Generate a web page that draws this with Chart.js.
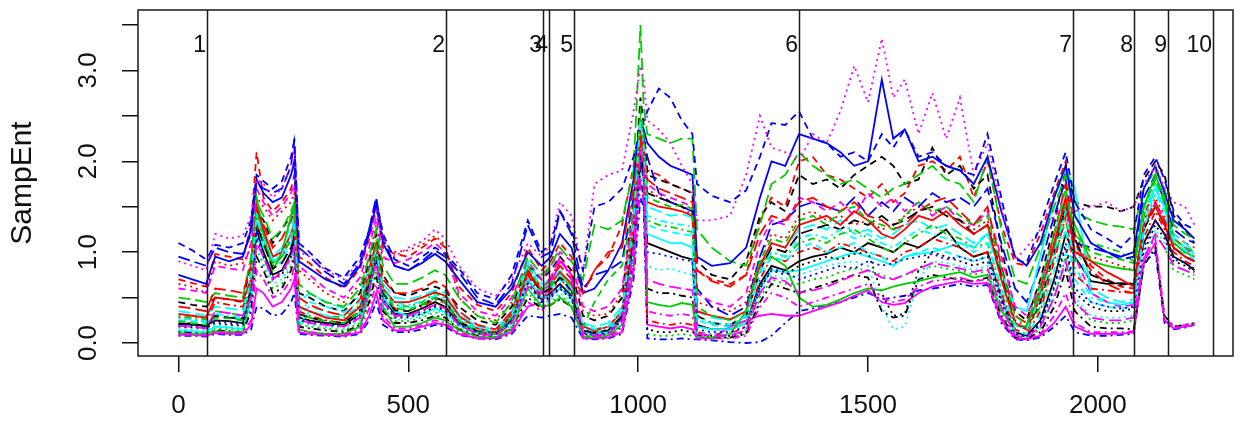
<!DOCTYPE html>
<html>
<head>
<meta charset="utf-8">
<script src="https://cdn.jsdelivr.net/npm/chart.js@4.4.1/dist/chart.umd.min.js"></script>
<style>
  html, body { margin: 0; padding: 0; background: #ffffff; }
  #wrap { width: 1240px; height: 423px; }
</style>
</head>
<body>
<div id="wrap"><canvas id="c" width="1240" height="423"></canvas></div>
<script>
// Sample positions (index along the recording)
const xs = [0,30,60,80,110,140,158,170,185,205,
  225,245,252,262,285,320,360,395,415,430,
  445,470,500,530,558,580,610,650,690,725,
  760,790,810,830,855,880,905,935,965,990,
  1005,1012,1020,1045,1070,1095,1118,1128,1160,1200,
  1235,1265,1290,1320,1350,1380,1410,1440,1470,1500,
  1530,1555,1580,1610,1640,1670,1700,1730,1760,1790,
  1820,1845,1875,1905,1930,1950,1985,2020,2050,2078,
  2100,2125,2145,2165,2190,2210];

// Sample entropy per subject
const s01 = [0.22,0.20,0.19,0.25,0.24,0.22,0.55,1.25,1.00,0.75, 0.80,1.00,1.20,0.28,0.25,0.22,0.20,0.32,0.65,0.95, 0.50,0.32,0.32,0.38,0.45,0.40,0.22,0.12,0.10,0.25, 0.70,0.48,0.55,0.65,0.52,0.12,0.10,0.12,0.28,1.10, 2.00,1.85,1.10,1.05,1.00,0.95,0.92,0.20,0.15,0.15, 0.22,0.65,0.85,0.80,0.90,0.95,0.98,1.05,1.00,1.10, 1.05,1.00,1.10,1.05,1.15,1.25,1.05,0.95,1.00,0.50, 0.12,0.08,0.25,0.70,1.20,0.95,0.68,0.65,0.66,0.65, 1.10,1.35,1.20,0.95,0.88,0.80];
const s02 = [0.70,0.66,0.62,0.98,0.95,0.92,1.30,2.10,1.60,1.45, 1.55,1.70,1.85,0.95,0.88,0.72,0.60,0.82,1.15,1.48, 1.05,0.98,0.95,1.05,1.15,1.05,0.62,0.42,0.35,0.55, 1.05,0.80,0.90,1.10,0.95,0.55,0.80,0.95,1.30,1.95, 2.40,2.30,1.90,1.85,1.75,1.70,1.65,0.80,0.70,0.65, 0.75,1.35,1.60,1.50,2.00,2.05,1.85,1.80,1.70,1.60, 1.75,1.55,1.65,1.95,2.00,1.90,2.05,1.60,2.00,1.30, 0.88,0.85,1.20,1.65,2.00,1.20,0.85,0.70,0.62,0.60, 1.40,1.70,1.50,1.20,1.10,1.05];
const s03 = [0.13,0.12,0.11,0.16,0.15,0.14,0.40,1.05,0.85,0.60, 0.65,0.85,1.00,0.20,0.18,0.16,0.14,0.22,0.50,0.80, 0.38,0.24,0.24,0.28,0.34,0.30,0.16,0.09,0.07,0.18, 0.55,0.40,0.45,0.52,0.42,0.09,0.07,0.09,0.20,0.95, 1.85,1.65,0.10,0.08,0.08,0.10,0.08,0.07,0.06,0.06, 0.10,0.50,0.70,0.65,0.65,0.70,0.72,0.78,0.82,0.80, 0.75,0.70,0.75,0.80,0.85,0.82,0.80,0.75,0.80,0.35, 0.07,0.05,0.15,0.50,0.95,0.45,0.25,0.22,0.22,0.25, 0.90,1.20,1.05,0.80,0.75,0.70];
const s04 = [0.08,0.08,0.07,0.10,0.09,0.09,0.15,0.40,0.38,0.30, 0.32,0.45,0.55,0.10,0.09,0.08,0.07,0.10,0.25,0.45, 0.20,0.12,0.12,0.15,0.20,0.18,0.09,0.05,0.04,0.10, 0.30,0.28,0.30,0.32,0.28,0.05,0.04,0.05,0.10,0.70, 1.60,1.50,0.05,0.04,0.04,0.05,0.04,0.04,0.03,0.01, 0.00,0.01,0.08,0.22,0.35,0.38,0.42,0.45,0.50,0.55, 0.48,0.50,0.52,0.58,0.60,0.62,0.65,0.62,0.64,0.22, 0.04,0.03,0.06,0.18,0.30,0.12,0.08,0.08,0.09,0.10, 0.88,1.00,0.22,0.15,0.17,0.20];
const s05 = [0.35,0.33,0.30,0.40,0.38,0.36,0.80,1.45,1.25,0.95, 1.05,1.30,1.40,0.45,0.55,0.45,0.38,0.52,0.85,1.05, 0.65,0.50,0.48,0.52,0.58,0.55,0.32,0.18,0.15,0.35, 0.90,0.65,0.70,0.80,0.65,0.22,0.18,0.22,0.40,1.40, 2.35,2.15,1.50,1.45,1.40,1.42,1.38,0.35,0.28,0.25, 0.35,0.85,1.10,1.05,1.25,1.30,1.25,1.35,1.20,1.25, 1.15,1.20,1.30,1.35,1.25,1.30,1.20,1.10,1.20,0.70, 0.20,0.15,0.60,1.20,1.60,1.10,0.60,0.50,0.45,0.48, 1.30,1.75,1.55,1.20,1.10,1.00];
const s06 = [0.09,0.09,0.08,0.11,0.10,0.10,0.20,0.60,0.55,0.40, 0.45,0.60,0.70,0.12,0.10,0.09,0.08,0.12,0.30,0.55, 0.25,0.14,0.14,0.18,0.22,0.20,0.10,0.05,0.05,0.12, 0.40,0.45,0.65,0.90,0.75,0.05,0.05,0.06,0.12,0.80, 2.10,2.30,0.20,0.18,0.16,0.18,0.15,0.05,0.05,0.18, 0.25,0.30,0.32,0.30,0.30,0.35,0.40,0.45,0.52,0.58, 0.45,0.42,0.44,0.55,0.62,0.65,0.68,0.65,0.66,0.25, 0.05,0.04,0.08,0.22,0.40,0.18,0.10,0.10,0.10,0.12, 0.90,1.10,0.25,0.16,0.18,0.20];
const s07 = [0.45,0.42,0.40,0.50,0.48,0.45,0.90,1.45,1.35,1.10, 1.25,1.40,1.50,0.55,0.50,0.40,0.35,0.55,0.90,1.20, 0.75,0.55,0.52,0.58,0.62,0.58,0.40,0.25,0.20,0.40, 0.85,0.70,0.80,0.95,0.80,0.30,0.25,0.30,0.50,1.60, 2.70,2.40,1.85,1.80,1.75,1.70,1.65,0.90,0.75,0.70, 0.90,1.40,1.55,1.45,1.85,1.75,1.80,1.70,1.85,1.95, 2.05,1.95,1.75,1.80,2.15,1.85,1.95,1.70,1.85,1.05, 0.35,0.25,0.70,1.30,1.95,1.55,1.50,1.50,1.45,1.50, 1.80,2.00,1.85,1.40,1.25,1.10];
const s08 = [0.65,0.62,0.55,0.90,0.85,0.88,1.05,1.60,1.50,1.35, 1.45,1.55,1.65,0.80,0.70,0.55,0.45,0.65,0.95,1.30, 0.90,1.00,1.02,1.08,1.18,1.08,0.50,0.30,0.25,0.45, 0.85,0.60,0.72,0.90,0.78,0.35,0.30,0.32,0.55,1.35, 2.15,2.05,1.70,1.60,1.55,1.50,1.40,0.45,0.40,0.35, 0.45,0.95,1.20,1.15,1.40,1.45,1.35,1.40,1.30,1.35, 1.25,1.30,1.40,1.50,1.45,1.40,1.35,1.25,1.35,0.80, 0.25,0.18,0.55,1.05,1.45,1.00,0.95,0.90,0.85,0.80, 1.35,1.60,1.40,1.10,1.00,0.95];
const s09 = [0.30,0.28,0.26,0.35,0.33,0.30,0.75,1.50,1.20,0.95, 1.00,1.20,1.35,0.40,0.35,0.30,0.28,0.42,0.80,1.10, 0.60,0.42,0.40,0.45,0.55,0.50,0.28,0.15,0.12,0.30, 0.80,0.55,0.62,0.75,0.60,0.20,0.15,0.18,0.35,1.30, 2.40,2.00,1.35,1.30,1.28,1.25,1.22,0.30,0.22,0.20, 0.30,0.80,1.00,0.95,1.10,1.15,1.10,1.20,1.25,1.15, 1.05,1.00,1.10,1.20,1.30,1.20,1.15,1.05,1.10,0.60, 0.20,0.15,0.40,0.95,1.35,0.90,1.10,1.05,1.00,0.90, 1.40,1.80,1.60,1.15,1.05,1.00];
const s10 = [0.95,0.90,0.85,1.05,1.00,0.98,1.20,1.75,1.70,1.65, 1.70,1.95,2.25,1.05,0.95,0.78,0.65,0.88,1.25,1.60, 1.15,0.85,0.80,0.90,1.02,0.95,0.78,0.50,0.42,0.65, 1.30,0.95,1.00,1.45,1.20,0.60,0.75,0.80,0.90,1.60, 2.20,2.25,2.05,1.65,1.55,1.50,1.45,0.60,0.40,0.30, 0.40,0.95,1.30,1.35,1.50,1.55,1.50,1.45,1.60,1.40, 1.55,1.45,1.60,1.50,1.65,1.55,1.60,1.50,1.70,1.10, 0.60,0.45,0.85,1.40,1.80,1.10,1.05,1.00,0.92,0.95, 1.60,1.85,1.55,1.25,1.15,1.10];
const s11 = [0.14,0.13,0.12,0.18,0.17,0.15,0.45,1.35,1.05,0.90, 0.95,1.20,1.35,0.20,0.35,0.30,0.25,0.32,0.60,0.95, 0.50,0.35,0.30,0.32,0.38,0.34,0.20,0.12,0.10,0.22, 0.70,0.50,0.52,0.60,0.50,0.12,0.10,0.12,0.30,1.15, 2.20,1.95,1.20,1.15,1.10,1.10,1.05,0.18,0.15,0.15, 0.22,0.60,0.80,0.78,0.80,0.85,0.90,0.95,1.00,0.95, 0.90,0.85,0.95,0.98,1.00,1.05,1.10,1.05,1.20,0.80, 0.40,0.35,0.95,1.60,1.92,1.70,0.55,0.45,0.42,0.45, 1.50,1.70,1.50,1.15,1.05,0.98];
const s12 = [0.60,0.58,0.55,0.85,0.82,0.80,1.10,1.70,1.55,1.40, 1.50,1.65,1.75,0.85,0.75,0.60,0.50,0.72,1.05,1.38, 0.95,0.88,0.92,1.00,1.10,1.00,0.55,0.35,0.30,0.50, 0.90,0.70,0.85,1.00,0.90,0.40,0.35,0.40,0.60,1.45, 2.30,2.20,1.75,1.65,1.60,1.55,1.50,0.55,0.45,0.40, 0.55,1.10,1.35,1.30,1.60,1.55,1.45,1.55,1.40,1.65, 1.50,1.60,1.45,1.55,1.40,1.50,1.35,1.30,1.45,0.95, 0.40,0.30,0.65,1.10,1.50,0.95,0.55,0.45,0.40,0.42, 1.25,1.55,1.35,1.15,1.05,0.95];
const s13 = [0.18,0.17,0.16,0.22,0.20,0.19,0.50,1.15,0.95,0.70, 0.75,0.95,1.10,0.25,0.22,0.20,0.18,0.28,0.60,0.90, 0.45,0.28,0.28,0.32,0.40,0.36,0.20,0.10,0.08,0.22, 0.65,0.45,0.50,0.60,0.48,0.10,0.08,0.10,0.25,1.05, 1.95,1.80,0.15,0.12,0.12,0.14,0.12,0.10,0.08,0.08, 0.12,0.60,0.80,0.75,0.85,0.90,0.95,0.92,0.98,1.00, 0.55,0.30,0.32,0.80,1.00,0.95,0.90,0.85,0.90,0.45, 0.10,0.07,0.20,0.60,1.05,0.55,0.40,0.35,0.35,0.38, 1.00,1.30,1.15,0.90,0.85,0.78];
const s14 = [0.28,0.26,0.24,0.45,0.42,0.40,0.65,1.30,1.15,0.85, 0.95,1.15,1.25,0.35,0.30,0.25,0.22,0.35,0.70,1.00, 0.55,0.38,0.36,0.40,0.48,0.44,0.25,0.12,0.10,0.28, 0.75,0.50,0.58,0.70,0.58,0.15,0.12,0.15,0.30,1.25, 2.20,1.90,0.25,0.22,0.20,0.22,0.20,0.12,0.10,0.10, 0.18,0.70,0.95,0.90,1.00,1.05,1.00,1.10,1.05,1.00, 0.95,0.90,1.00,1.05,1.15,1.10,1.05,0.95,1.00,0.55, 0.15,0.10,0.35,0.90,1.40,0.75,0.60,0.58,0.56,0.55, 1.15,1.45,1.25,1.00,0.90,0.85];
const s15 = [0.50,0.48,0.45,0.55,0.52,0.50,0.95,1.55,1.40,1.15, 1.25,1.45,1.55,0.65,0.55,0.45,0.40,0.60,0.95,1.25, 0.85,0.65,0.65,0.72,0.80,0.75,0.50,0.30,0.22,0.45, 0.95,0.75,0.85,1.05,0.90,0.70,1.30,1.25,1.35,1.90, 3.50,2.60,2.30,2.25,2.20,2.25,2.25,1.25,1.05,0.90, 0.85,1.30,1.75,1.85,2.10,1.95,1.85,1.75,1.80,1.70, 1.60,1.70,1.75,1.85,1.95,1.80,1.75,1.55,2.05,1.25, 0.70,0.65,1.05,1.50,1.85,1.45,1.35,1.30,1.28,1.25, 1.70,1.90,1.70,1.30,1.20,1.15];
const s16 = [0.75,0.70,0.65,0.95,0.90,0.95,1.25,1.80,1.65,1.55, 1.60,1.85,2.00,0.90,0.82,0.70,0.62,0.85,1.20,1.52, 1.10,0.85,0.80,0.88,0.98,0.90,0.70,0.45,0.40,0.60, 1.00,0.85,0.95,1.20,1.05,0.55,0.60,0.80,1.10,1.80, 2.45,2.35,2.20,2.05,1.95,1.90,1.85,0.95,0.85,0.88, 1.05,1.60,2.00,1.95,2.30,2.25,2.20,2.10,1.95,2.00, 2.90,2.25,2.35,2.00,2.05,1.95,1.90,1.75,2.05,1.45, 0.95,0.85,1.10,1.60,1.95,1.40,1.10,1.00,0.95,1.00, 1.70,1.95,1.65,1.35,1.25,1.15];
const s17 = [0.25,0.24,0.22,0.30,0.28,0.26,0.70,1.40,1.10,0.85, 0.90,1.10,1.30,0.30,0.40,0.35,0.30,0.40,0.75,1.00, 0.55,0.40,0.38,0.42,0.50,0.45,0.25,0.14,0.12,0.28, 0.85,0.55,0.60,0.70,0.55,0.18,0.12,0.15,0.32,1.20, 2.40,2.10,1.30,1.25,1.22,1.20,1.18,0.25,0.20,0.18, 0.28,0.75,0.95,0.90,1.05,1.10,1.00,1.05,1.10,1.00, 0.95,0.85,0.95,1.00,1.05,1.00,0.95,0.90,0.95,0.50, 0.12,0.10,0.30,0.80,1.25,0.70,0.45,0.40,0.38,0.40, 1.20,1.65,1.45,1.05,0.98,0.92];
const s18 = [0.90,0.85,0.80,1.20,1.15,1.18,1.40,1.80,1.75,1.60, 1.70,1.95,2.18,1.00,0.95,0.80,0.70,0.90,1.15,1.45, 1.15,0.95,1.05,1.12,1.25,1.15,0.85,0.60,0.52,0.70, 1.10,0.95,1.10,1.55,1.40,0.78,1.75,1.85,1.90,2.55, 3.05,2.90,2.45,2.35,2.20,1.95,1.75,1.35,1.35,1.40, 1.85,2.50,2.15,2.10,2.00,2.30,2.20,2.55,3.05,2.65, 3.35,2.70,2.90,2.30,2.75,2.25,2.70,1.85,2.20,1.50, 0.92,1.05,1.25,1.40,1.50,1.45,1.50,1.55,1.45,1.50, 1.75,1.95,1.70,1.55,1.50,1.30];
const s19 = [0.12,0.11,0.10,0.14,0.13,0.12,0.35,0.95,0.80,0.55, 0.60,0.80,0.95,0.18,0.16,0.14,0.12,0.20,0.45,0.75, 0.35,0.22,0.22,0.25,0.30,0.28,0.15,0.08,0.06,0.16, 0.50,0.38,0.42,0.48,0.40,0.08,0.06,0.08,0.18,0.90, 1.80,1.60,0.60,0.55,0.55,0.52,0.50,0.08,0.06,0.06, 0.10,0.45,0.65,0.60,0.55,0.60,0.65,0.70,0.75,0.72, 0.35,0.28,0.30,0.70,0.75,0.72,0.70,0.68,0.72,0.30, 0.06,0.05,0.12,0.40,0.80,0.35,0.18,0.16,0.16,0.15, 0.85,1.05,0.30,0.18,0.20,0.22];
const s20 = [0.40,0.38,0.35,0.60,0.58,0.55,0.85,1.40,1.30,1.05, 1.15,1.35,1.45,0.50,0.42,0.35,0.30,0.48,0.82,1.10, 0.70,0.55,0.55,0.60,0.68,0.62,0.35,0.20,0.15,0.35, 0.80,0.60,0.70,0.85,0.70,0.55,0.80,1.00,1.05,1.70, 2.25,2.10,1.80,1.70,1.65,1.60,1.55,0.80,0.68,0.62, 0.75,1.20,1.40,1.35,1.55,1.60,1.50,1.45,1.55,1.40, 1.35,1.25,1.30,1.45,1.55,1.60,1.45,1.30,1.50,0.85, 0.30,0.22,0.60,1.20,1.75,1.10,0.80,0.65,0.58,0.55, 1.30,1.55,1.35,1.05,0.95,0.90];
const s21 = [0.11,0.10,0.10,0.13,0.12,0.12,0.55,1.60,1.20,0.80, 1.00,1.40,1.50,0.15,0.12,0.10,0.10,0.18,0.55,1.10, 0.40,0.18,0.18,0.22,0.28,0.25,0.14,0.07,0.06,0.15, 0.60,0.40,0.42,0.50,0.40,0.07,0.06,0.08,0.20,1.20, 2.45,2.20,0.45,0.42,0.40,0.44,0.42,0.07,0.06,0.10, 0.35,0.90,0.95,0.85,0.50,0.40,0.42,0.48,0.55,0.60, 0.58,0.62,0.65,0.68,0.72,0.75,0.78,0.72,0.75,0.35, 0.20,0.18,0.55,1.05,1.55,1.30,0.90,0.85,0.82,0.80, 1.50,1.85,1.60,1.10,1.00,0.95];
const s22 = [1.10,1.02,0.92,1.08,1.05,1.10,1.35,1.85,1.78,1.70, 1.78,2.05,2.22,1.10,1.00,0.82,0.72,0.95,1.25,1.58, 1.20,0.92,0.85,0.95,1.05,0.98,0.82,0.55,0.48,0.75, 1.35,1.00,1.10,1.45,1.25,0.80,1.50,1.55,1.70,2.05, 2.35,2.45,2.55,2.80,2.70,2.45,2.30,1.75,1.62,1.55, 1.68,2.05,2.42,2.40,2.55,2.25,2.20,2.05,2.10,2.00, 2.30,2.15,2.35,2.05,2.10,1.95,1.90,1.85,2.30,1.60, 0.92,0.88,1.30,1.75,2.10,1.55,1.25,1.15,1.05,1.20, 1.85,2.05,1.80,1.45,1.30,1.25];
const s23 = [0.16,0.15,0.14,0.20,0.18,0.17,0.48,1.20,0.90,0.65, 0.70,0.90,1.05,0.22,0.20,0.18,0.16,0.25,0.55,0.85, 0.42,0.26,0.26,0.30,0.36,0.32,0.18,0.10,0.08,0.20, 0.60,0.42,0.48,0.55,0.45,0.10,0.08,0.10,0.22,1.00, 1.90,1.70,0.85,0.80,0.82,0.78,0.75,0.12,0.10,0.10, 0.15,0.55,0.75,0.70,0.75,0.80,0.85,0.88,0.90,0.85, 0.40,0.15,0.18,0.70,0.90,0.88,0.85,0.80,0.85,0.40, 0.08,0.06,0.18,0.55,1.00,0.50,0.30,0.28,0.28,0.30, 0.95,1.25,1.10,0.85,0.80,0.75];
const s24 = [0.10,0.10,0.09,0.12,0.11,0.11,0.25,0.80,0.70,0.50, 0.55,0.70,0.85,0.15,0.12,0.10,0.09,0.15,0.38,0.65, 0.30,0.16,0.16,0.20,0.25,0.22,0.12,0.06,0.05,0.14, 0.45,0.35,0.50,0.75,0.55,0.06,0.05,0.07,0.15,0.85, 1.75,1.55,0.35,0.32,0.30,0.32,0.30,0.06,0.05,0.05, 0.08,0.40,0.55,0.50,0.40,0.45,0.50,0.55,0.60,0.65, 0.50,0.45,0.48,0.62,0.68,0.70,0.72,0.68,0.70,0.28, 0.05,0.04,0.10,0.30,0.55,0.22,0.12,0.12,0.12,0.13, 0.95,1.15,0.28,0.18,0.20,0.22];
const s25 = [0.20,0.22,0.18,0.30,0.28,0.27,0.60,1.30,1.10,0.82, 0.88,1.05,1.15,0.32,0.28,0.24,0.22,0.36,0.70,1.02, 0.55,0.36,0.35,0.42,0.50,0.46,0.24,0.13,0.11,0.30, 0.78,0.55,0.60,0.72,0.58,0.14,0.11,0.14,0.30,1.15, 2.05,1.90,1.65,1.60,1.55,1.50,1.45,0.30,0.22,0.20, 0.30,0.80,1.05,1.00,1.20,1.25,1.30,1.25,1.35,1.30, 1.40,1.30,1.35,1.45,1.50,1.40,1.35,1.20,1.30,0.75, 0.22,0.15,0.45,1.00,1.50,1.15,0.75,0.68,0.64,0.66, 1.25,1.50,1.30,1.05,0.95,0.90];
const s26 = [0.32,0.30,0.28,0.50,0.48,0.46,0.70,1.50,1.25,0.95, 1.00,1.20,1.30,0.40,0.35,0.28,0.25,0.40,0.75,1.08, 0.60,0.45,0.45,0.50,0.56,0.52,0.30,0.16,0.12,0.32, 0.78,0.58,0.65,0.78,0.65,0.18,0.14,0.18,0.35,1.30, 2.30,2.10,1.55,1.50,1.48,1.45,1.40,0.35,0.30,0.26, 0.35,0.85,1.10,1.05,1.30,1.35,1.40,1.30,1.45,1.35, 1.20,1.15,1.25,1.40,1.35,1.45,1.30,1.20,1.30,0.70, 0.22,0.15,0.50,1.10,1.60,1.00,0.90,0.78,0.70,0.62, 1.30,1.50,1.30,1.05,0.95,0.90];
const s27 = [0.24,0.22,0.20,0.28,0.27,0.25,0.68,1.45,1.15,0.88, 0.95,1.15,1.28,0.30,0.28,0.24,0.22,0.35,0.72,1.05, 0.58,0.38,0.36,0.42,0.50,0.45,0.24,0.12,0.10,0.28, 0.85,0.58,0.65,0.75,0.62,0.18,0.45,0.70,0.85,1.50, 2.55,2.30,1.60,1.55,1.50,1.52,1.48,0.40,0.30,0.25, 0.35,0.90,1.15,1.10,1.35,1.40,1.30,1.45,1.50,1.35, 1.30,1.25,1.40,1.55,1.45,1.50,1.40,1.30,1.40,0.80, 0.30,0.20,0.65,1.20,1.70,1.20,1.00,0.95,0.92,0.88, 1.50,1.80,1.55,1.15,1.05,1.00];
const s28 = [0.20,0.19,0.17,0.24,0.22,0.21,0.55,1.20,0.95,0.72, 0.78,0.98,1.15,0.26,0.24,0.21,0.19,0.30,0.62,0.92, 0.48,0.30,0.30,0.35,0.42,0.38,0.21,0.11,0.09,0.24, 0.66,0.46,0.52,0.62,0.50,0.11,0.09,0.11,0.26,1.05, 2.00,1.80,1.00,0.98,0.95,0.92,0.90,0.15,0.12,0.12, 0.18,0.62,0.82,0.78,0.70,0.75,0.80,0.85,0.82,0.90, 0.85,0.88,0.92,0.95,0.98,0.92,0.95,0.90,0.95,0.48, 0.10,0.07,0.22,0.62,1.10,0.60,0.45,0.40,0.38,0.40, 1.05,1.35,1.20,0.92,0.88,0.82];
const s29 = [0.27,0.26,0.24,0.32,0.30,0.28,0.72,1.40,1.15,0.92, 0.98,1.18,1.32,0.35,0.45,0.40,0.34,0.45,0.78,1.02, 0.58,0.44,0.42,0.46,0.52,0.48,0.28,0.16,0.13,0.30, 0.88,0.60,0.66,0.75,0.60,0.20,0.15,0.18,0.36,1.30, 2.45,2.15,1.40,1.35,1.32,1.30,1.28,0.28,0.22,0.20, 0.30,0.80,1.00,0.95,1.15,1.20,1.15,1.25,1.15,1.20, 1.10,1.05,1.15,1.25,1.20,1.15,1.10,1.00,1.10,0.60, 0.20,0.15,0.50,1.00,1.45,0.85,0.50,0.45,0.42,0.44, 1.25,1.70,1.50,1.12,1.02,0.95];
const s30 = [0.19,0.18,0.16,0.35,0.33,0.30,0.50,1.10,0.95,0.70, 0.78,0.95,1.05,0.26,0.22,0.20,0.18,0.28,0.58,0.88, 0.45,0.30,0.30,0.36,0.42,0.38,0.20,0.10,0.08,0.22, 0.62,0.55,0.72,0.95,0.70,0.10,0.08,0.10,0.24,1.05, 2.10,1.95,0.70,0.65,0.62,0.60,0.58,0.10,0.08,0.08, 0.14,0.55,0.72,0.68,0.55,0.58,0.62,0.68,0.75,0.80, 0.72,0.70,0.75,0.82,0.88,0.85,0.82,0.78,0.82,0.40, 0.08,0.06,0.18,0.50,0.90,0.45,0.28,0.25,0.25,0.28, 0.92,1.20,1.05,0.85,0.80,0.75];

const series = [s01,s02,s03,s04,s05,s06,s07,s08,s09,s10,s11,s12,s13,s14,s15,
                s16,s17,s18,s19,s20,s21,s22,s23,s24,s25,s26,s27,s28,s29,s30];

// Segment boundaries and their labels
const breaks = [63, 581, 792, 805, 860, 1350, 1945, 2079, 2153, 2250];
const breakLabels = ['1','2','3','4','5','6','7','8','9','10'];
const breakLabelLevel = 3.27;

// Axis ticks
const xTicks = [0, 500, 1000, 1500, 2000];
const yTicks = [0, 0.5, 1, 1.5, 2, 2.5, 3, 3.5];

// matplot-style colour and line-type cycles
const palette = ['#000000', '#FF0000', '#00CD00', '#0000FF', '#00FFFF', '#FF00FF'];
const dashes = [[], [7, 5], [2, 4], [2, 4, 7, 4], [12, 5]];

Chart.defaults.font.family = '"Liberation Sans", Arial, Helvetica, sans-serif';
Chart.defaults.color = '#111111';

const datasets = series.map((vals, i) => ({
  label: 'S' + (i + 1),
  data: vals.map((v, j) => ({ x: xs[j], y: v })),
  borderColor: palette[i % palette.length],
  borderDash: dashes[i % dashes.length],
  borderWidth: 1.8,
  pointRadius: 0,
  tension: 0,
  fill: false,
  order: series.length - i
}));

const segmentPlugin = {
  id: 'segments',
  afterDatasetsDraw(chart) {
    const { ctx, chartArea: a, scales: { x, y } } = chart;
    ctx.save();
    ctx.strokeStyle = '#1a1a1a';
    ctx.lineWidth = 1.5;
    ctx.font = '23px "Liberation Sans", Arial, sans-serif';
    ctx.fillStyle = '#111111';
    ctx.textAlign = 'right';
    ctx.textBaseline = 'middle';
    const ly = y.getPixelForValue(breakLabelLevel);
    breaks.forEach((b, i) => {
      const px = Math.round(x.getPixelForValue(b)) + 0.5;
      ctx.beginPath();
      ctx.moveTo(px, a.top);
      ctx.lineTo(px, a.bottom);
      ctx.stroke();
      ctx.fillText(breakLabels[i], px - 1.5, ly);
    });
    ctx.strokeRect(a.left, a.top, a.right - a.left, a.bottom - a.top);
    ctx.restore();
  }
};

function noEdgePadding(scale) {
  scale.paddingTop = 0;
  scale.paddingBottom = 0;
  scale.paddingLeft = 0;
  scale.paddingRight = 0;
}

new Chart(document.getElementById('c'), {
  type: 'line',
  data: { datasets },
  plugins: [segmentPlugin],
  options: {
    responsive: false,
    animation: false,
    events: [],
    layout: { padding: { top: 10, right: 7, bottom: 0, left: 0 } },
    plugins: { legend: { display: false }, tooltip: { enabled: false } },
    scales: {
      x: {
        type: 'linear',
        min: -88,
        max: 2294,
        border: { display: false },
        grid: { drawOnChartArea: false, drawTicks: true, tickLength: 16, color: '#111111', lineWidth: 1.5 },
        ticks: { autoSkip: false, maxRotation: 0, padding: 18, font: { size: 26 }, color: '#111111',
                 callback: v => String(v) },
        afterBuildTicks(scale) { scale.ticks = xTicks.map(v => ({ value: v })); },
        afterFit(scale) { scale.height = 67; noEdgePadding(scale); }
      },
      y: {
        type: 'linear',
        min: -0.143,
        max: 3.665,
        border: { display: false },
        grid: { drawOnChartArea: false, drawTicks: true, tickLength: 16, color: '#111111', lineWidth: 1.5 },
        ticks: {
          autoSkip: false,
          minRotation: 90, maxRotation: 90, crossAlign: 'center', padding: 15,
          font: { size: 26 }, color: '#111111',
          callback: v => Math.abs(v - Math.round(v)) < 1e-6 ? v.toFixed(1) : ''
        },
        afterBuildTicks(scale) { scale.ticks = yTicks.map(v => ({ value: v })); },
        title: { display: true, text: 'SampEnt', font: { size: 30 }, color: '#111111',
                 padding: { top: 5, bottom: 0 } },
        afterFit(scale) { scale.width = 138; noEdgePadding(scale); }
      }
    }
  }
});
</script>
</body>
</html>
